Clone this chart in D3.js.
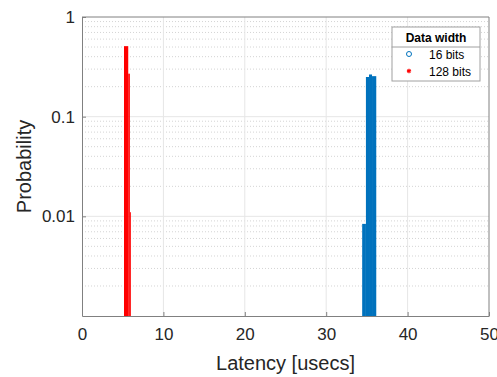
<!DOCTYPE html>
<html>
<head>
<meta charset="utf-8">
<script src="https://cdn.jsdelivr.net/npm/d3@7"></script>
<style>
  body { margin: 0; background: #fff; }
  svg { display: block; font-family: "Liberation Sans", Arial, sans-serif; }
</style>
</head>
<body>
<div id="chart"></div>
<script>
// histogram bins: [start, end] in usecs, probability
const bins16 = [[34.42, 34.88], [34.88, 35.26], [35.26, 35.63], [35.63, 36.15]];
const prob16 = [0.0084, 0.25, 0.265, 0.255];
const bins128 = [[5.16, 5.68], [5.68, 5.88], [5.88, 6.0]];
const prob128 = [0.51, 0.27, 0.011];

const xTicks = [0, 10, 20, 30, 40, 50];
const yTicks = [1, 0.1, 0.01];
const yTickLabels = ["1", "0.1", "0.01"];
const legendTitle = "Data width";
const seriesNames = ["16 bits", "128 bits"];
const seriesColors = ["#0072BD", "#FF0000"];

const width = 497, height = 377;
const margin = { top: 17, right: 8, bottom: 61, left: 82 };

const svg = d3.select("#chart").append("svg")
    .attr("width", width)
    .attr("height", height);

const x = d3.scaleLinear().domain([0, 50]).range([margin.left, width - margin.right]);
const y = d3.scaleLog().domain([0.001, 1]).range([height - margin.bottom, margin.top]);

// minor grid (dotted) on the log axis
const minor = [];
[0.001, 0.01, 0.1].forEach(d => { for (let k = 2; k <= 9; k++) minor.push(d * k); });
svg.append("g").selectAll("line").data(minor).enter().append("line")
    .attr("x1", x(0)).attr("x2", x(50))
    .attr("y1", d => y(d)).attr("y2", d => y(d))
    .attr("stroke", "#d4d4d4").attr("stroke-width", 1)
    .attr("stroke-dasharray", "1,2");

// major grid
svg.append("g").selectAll("line").data(xTicks.slice(1, -1)).enter().append("line")
    .attr("x1", d => x(d)).attr("x2", d => x(d))
    .attr("y1", y(0.001)).attr("y2", y(1))
    .attr("stroke", "#e6e6e6");
svg.append("g").selectAll("line").data([0.1, 0.01]).enter().append("line")
    .attr("x1", x(0)).attr("x2", x(50))
    .attr("y1", d => y(d)).attr("y2", d => y(d))
    .attr("stroke", "#e6e6e6");

// bars
const drawBars = (bins, probs, color) => {
    svg.append("g").selectAll("rect").data(bins).enter().append("rect")
        .attr("x", d => x(d[0]))
        .attr("width", d => x(d[1]) - x(d[0]))
        .attr("y", (d, i) => y(probs[i]))
        .attr("height", (d, i) => y(0.001) - y(probs[i]))
        .attr("fill", color);
};
drawBars(bins16, prob16, seriesColors[0]);
drawBars(bins128, prob128, seriesColors[1]);

// axes
const xAxis = svg.append("g")
    .attr("transform", `translate(0,${height - margin.bottom})`)
    .call(d3.axisBottom(x).tickValues(xTicks).tickSizeInner(-4).tickSizeOuter(0).tickPadding(12));
const yAxis = svg.append("g")
    .attr("transform", `translate(${margin.left},0)`)
    .call(d3.axisLeft(y).tickValues(yTicks).tickFormat((d, i) => yTickLabels[i]).tickSizeInner(-4).tickSizeOuter(0).tickPadding(7));

[xAxis, yAxis].forEach(a => {
    a.select(".domain").attr("stroke", "#808080");
    a.selectAll(".tick line").attr("stroke", "#808080");
    a.selectAll("text").attr("fill", "#262626").style("font-size", "17px");
});

// box top/right
svg.append("line").attr("x1", x(0)).attr("x2", x(50)).attr("y1", y(1)).attr("y2", y(1)).attr("stroke", "#808080");
svg.append("line").attr("x1", x(50)).attr("x2", x(50)).attr("y1", y(1)).attr("y2", y(0.001)).attr("stroke", "#808080");

// labels
svg.append("text")
    .attr("x", (x(0) + x(50)) / 2).attr("y", 370)
    .attr("text-anchor", "middle")
    .attr("fill", "#262626").style("font-size", "20px")
    .text("Latency [usecs]");
svg.append("text")
    .attr("transform", `translate(31,${(y(1) + y(0.001)) / 2}) rotate(-90)`)
    .attr("text-anchor", "middle")
    .attr("fill", "#262626").style("font-size", "20px")
    .text("Probability");

// legend
const lg = svg.append("g").attr("transform", "translate(392,27)");
lg.append("rect").attr("width", 88).attr("height", 54)
    .attr("fill", "#fff").attr("stroke", "#a0a0a0");
lg.append("line").attr("x1", 0).attr("x2", 88).attr("y1", 20).attr("y2", 20).attr("stroke", "#a0a0a0");
lg.append("text").attr("x", 44).attr("y", 14.5).attr("text-anchor", "middle")
    .style("font-size", "12px").style("font-weight", "bold").attr("fill", "#000")
    .text(legendTitle);
const items = lg.selectAll(".item").data(seriesNames).enter().append("g")
    .attr("transform", (d, i) => `translate(0,${27 + i * 17})`);
items.append("text").attr("x", 37).attr("y", 4.5)
    .style("font-size", "12px").attr("fill", "#000")
    .text(d => d);
items.filter((d, i) => i === 0).append("circle")
    .attr("cx", 17).attr("cy", 0).attr("r", 2.5)
    .attr("fill", "none").attr("stroke", seriesColors[0]);
items.filter((d, i) => i === 1).append("path")
    .attr("transform", "translate(17,0)")
    .attr("d", d3.symbol(d3.symbolAsterisk, 14))
    .attr("stroke", seriesColors[1]).attr("fill", "none").attr("stroke-width", 1.2);
</script>
</body>
</html>
